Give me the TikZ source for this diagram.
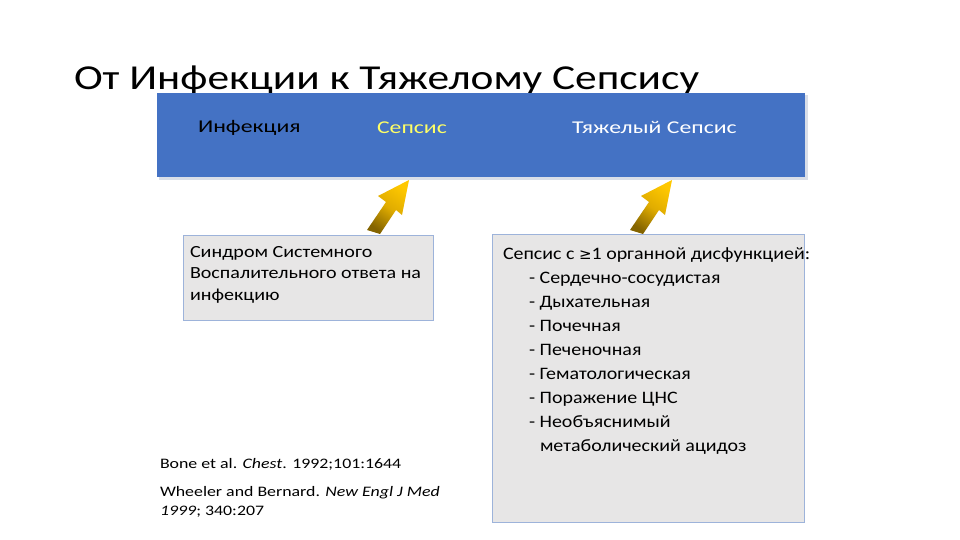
\documentclass[tikz,border=0pt]{standalone}
\usepackage{fontspec}
\setmainfont{Carlito}
\newfontfamily\symfont{DejaVu Sans}
\newfontfamily\titlefont[FakeStretch=1.24]{Carlito}
\newfontfamily\bannerfont[FakeStretch=1.32]{Carlito}
\newfontfamily\sirsfont[FakeStretch=1.18]{Carlito}
\newfontfamily\listfont[FakeStretch=1.14]{Carlito}
\newfontfamily\reffont[FakeStretch=1.23]{Carlito}
\definecolor{slideblue}{HTML}{4472C4}
\definecolor{boxgray}{HTML}{E7E6E6}
\definecolor{boxedge}{HTML}{9DB3DA}
\definecolor{sepsisyellow}{HTML}{FFFF66}
\definecolor{arrowgold}{HTML}{FFC800}
\definecolor{arrowmid}{HTML}{E0AC00}
\definecolor{arrowdark}{HTML}{846400}
\definecolor{shadowgray}{HTML}{D9DEE8}
\tikzset{
  txt/.style={inner sep=0pt, outer sep=0pt, anchor=base west},
  graybox/.style={draw=boxedge, line width=0.8pt, fill=boxgray, anchor=north west, inner sep=0pt},
  goldarrow/.style={top color=arrowgold, bottom color=arrowdark, middle color=arrowmid, shading angle=-35, draw=none},
}
\begin{document}
\begin{tikzpicture}[x=1pt,y=-1pt]
\useasboundingbox (0,0) rectangle (960,540);
\fill[white] (0,0) rectangle (960,540);
% title
\node[txt, font=\titlefont\fontsize{35}{40}\selectfont] (title) at (74,90) {От Инфекции к Тяжелому Сепсису};
% banner
\fill[shadowgray] (159,95) rectangle (808,180);
\node[fill=slideblue, anchor=north west, minimum width=648pt, minimum height=84pt, inner sep=0pt] (banner) at (157,93) {};
\node[txt, font=\bannerfont\fontsize{18}{22}\selectfont] (inf) at (198,133) {Инфекция};
\node[txt, font=\bannerfont\fontsize{18}{22}\selectfont, text=sepsisyellow] (sep) at (377,134) {Сепсис};
\node[txt, font=\bannerfont\fontsize{18}{22}\selectfont, text=white] (sev) at (572,134) {Тяжелый Сепсис};
% arrows
\shade[goldarrow] (409,180) -- (402,215) -- (396,210) -- (380,234) -- (367,230) -- (386,202) -- (378,196) -- cycle;
\shade[goldarrow] (672,180) -- (665,215) -- (659,210) -- (643,234) -- (630,230) -- (649,202) -- (641,196) -- cycle;
% left box
\node[graybox, minimum width=250pt, minimum height=85pt] (sirsbox) at (183,235) {};
\node[txt, font=\sirsfont\fontsize{17}{21.5}\selectfont, align=left, anchor=north west] (sirs) at (190,246)
  {Синдром Системного\\Воспалительного ответа на\\инфекцию};
% right box
\node[graybox, minimum width=312pt, minimum height=288pt] (organbox) at (492,234) {};
\node[txt, font=\listfont\fontsize{17.5}{24}\selectfont, align=left, anchor=north west] (organ) at (503,248)
  {Сепсис с {\symfont\fontsize{15}{24}\selectfont≥}1 органной дисфункцией:\\
   \hspace*{26pt}- Сердечно-сосудистая\\
   \hspace*{26pt}- Дыхательная\\
   \hspace*{26pt}- Почечная\\
   \hspace*{26pt}- Печеночная\\
   \hspace*{26pt}- Гематологическая\\
   \hspace*{26pt}- Поражение ЦНС\\
   \hspace*{26pt}- Необъяснимый\\
   \hspace*{37pt}метаболический ацидоз};
% references
\node[txt, font=\reffont\fontsize{14.5}{19}\selectfont] (ref1) at (160,468) {Bone et al. \textit{Chest}. 1992;101:1644};
\node[txt, font=\reffont\fontsize{14.5}{19.5}\selectfont, align=left, anchor=north west] (ref2) at (160,486)
  {Wheeler and Bernard. \textit{New Engl J Med}\\\textit{1999}; 340:207};
\end{tikzpicture}
\end{document}
